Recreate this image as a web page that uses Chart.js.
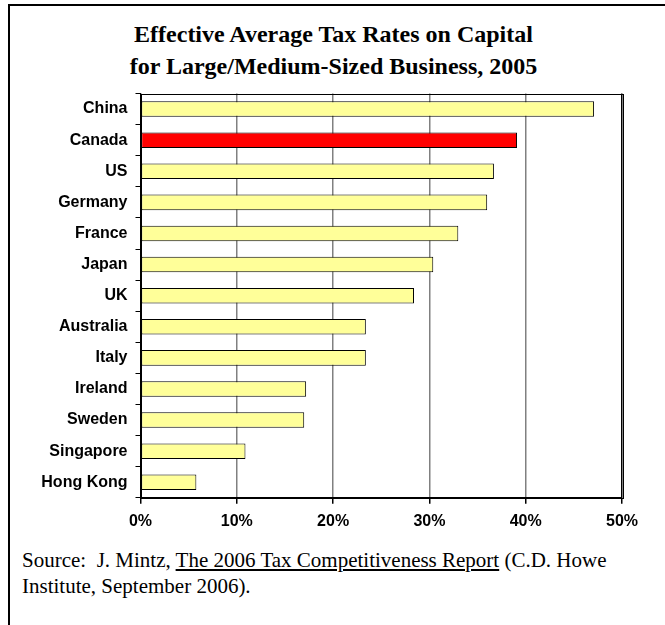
<!DOCTYPE html>
<html>
<head>
<meta charset="utf-8">
<script src="https://cdn.jsdelivr.net/npm/chart.js@4.4.0/dist/chart.umd.min.js"></script>
<style>
	body { margin: 0; background: #fff; }
	#wrap { position: relative; width: 665px; height: 625px; overflow: hidden; }
	#frame { position: absolute; left: 8px; top: 4px; width: 700px; height: 700px; border-top: 2px solid #000; border-left: 2px solid #000; }
	#box { position: absolute; left: 0; top: 0; width: 665px; height: 540px; }
	#title { position: absolute; left: 0; top: 18px; width: 667px; text-align: center; font-family: "Liberation Serif", serif; font-weight: bold; font-size: 24px; line-height: 32px; color: #000; }
	#source { position: absolute; left: 22px; top: 547px; width: 640px; font-family: "Liberation Serif", serif; font-size: 21px; line-height: 26px; color: #000; white-space: nowrap; }
</style>
</head>
<body>
<div id="wrap">
	<div id="frame"></div>
	<div id="title">Effective Average Tax Rates on Capital<br>for Large/Medium-Sized Business, 2005</div>
	<div id="box"><canvas id="taxrates"></canvas></div>
	<div id="source">Source:&nbsp; J. Mintz, <u>The 2006 Tax Competitiveness Report</u> (C.D. Howe<br>Institute, September 2006).</div>
</div>
<script>
var countries = ['China', 'Canada', 'US', 'Germany', 'France', 'Japan', 'UK', 'Australia', 'Italy', 'Ireland', 'Sweden', 'Singapore', 'Hong Kong'];
var rates = [47.1, 39.1, 36.7, 36.0, 33.0, 30.4, 28.4, 23.4, 23.4, 17.2, 17.0, 10.9, 5.8];
var highlight = 'Canada';
var xTicks = [0, 10, 20, 30, 40, 50];

var colors = [];
for (var i in countries) {
	colors.push(countries[i] == highlight ? '#ff0000' : '#ffff99');
}

// black box round the plot area
var plotBox = {
	id: 'plotBox',
	afterDraw: function(chart) {
		var a = chart.chartArea;
		var c = chart.ctx;
		c.save();
		c.strokeStyle = '#000';
		c.lineWidth = 1;
		c.strokeRect(Math.round(a.left) + 0.5, Math.round(a.top) + 0.5, Math.round(a.right - a.left), Math.round(a.bottom - a.top));
		c.restore();
	}
};

var ctx = document.getElementById('taxrates');
var chart = new Chart(ctx, {
	type: 'bar',
	data: {
		labels: countries,
		datasets: [{
			data: rates,
			backgroundColor: colors,
			borderColor: '#000',
			borderWidth: 1,
			borderSkipped: false,
			barPercentage: 0.5,
			categoryPercentage: 1
		}]
	},
	options: {
		indexAxis: 'y',
		responsive: true,
		maintainAspectRatio: false,
		animation: false,
		layout: { padding: { left: 8, right: 43, top: 93.5, bottom: 1 } },
		plugins: {
			legend: { display: false },
			tooltip: { enabled: false },
			title: { display: false }
		},
		scales: {
			x: {
				min: 0,
				max: 50,
				afterBuildTicks: function(scale) {
					scale.ticks = xTicks.map(function(v) { return { value: v }; });
				},
				grid: {
					color: function(c) { return (c.tick && (c.tick.value == 0 || c.tick.value == 50)) ? '#000' : '#808080'; },
					lineWidth: 1.5,
					tickColor: '#000',
					tickLength: 6
				},
				border: { color: '#000', width: 1 },
				ticks: {
					color: '#000',
					padding: 8,
					maxRotation: 0,
					font: { family: '"Liberation Sans", Arial, sans-serif', size: 16, weight: 'bold' },
					callback: function(v) { return v + '%'; }
				}
			},
			y: {
				afterFit: function(scale) { scale.width = 132.5; },
				grid: {
					offset: true,
					drawOnChartArea: false,
					tickColor: '#000',
					tickLength: 5
				},
				border: { color: '#000', width: 1 },
				ticks: {
					color: '#000',
					padding: 8,
					font: { family: '"Liberation Sans", Arial, sans-serif', size: 16, weight: 'bold' }
				}
			}
		}
	},
	plugins: [plotBox]
});
</script>
</body>
</html>
